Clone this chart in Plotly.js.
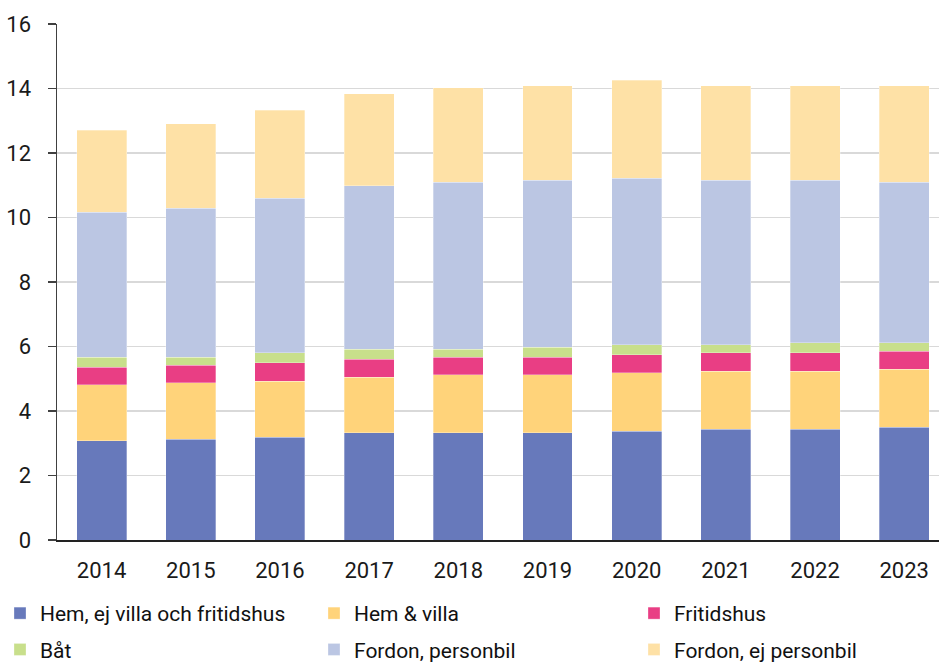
<!DOCTYPE html>
<html>
<head>
<meta charset="utf-8">
<script src="https://cdn.plot.ly/plotly-3.0.1.min.js"></script>
<style>html,body{margin:0;padding:0;background:#fff;}#chart{width:939px;height:663px;}</style>
</head>
<body>
<div id="chart"></div>
<script>
const years = ["2014","2015","2016","2017","2018","2019","2020","2021","2022","2023"];
const hemEjVilla = [3.07, 3.13, 3.19, 3.32, 3.32, 3.32, 3.38, 3.44, 3.44, 3.50];
const hemVilla = [1.74, 1.74, 1.74, 1.73, 1.80, 1.80, 1.80, 1.80, 1.80, 1.80];
const fritidshus = [0.54, 0.55, 0.56, 0.56, 0.55, 0.55, 0.56, 0.56, 0.56, 0.56];
const bat = [0.31, 0.25, 0.31, 0.31, 0.25, 0.31, 0.31, 0.25, 0.31, 0.25];
const personbil = [4.51, 4.62, 4.80, 5.06, 5.18, 5.18, 5.17, 5.11, 5.05, 4.99];
const ejPersonbil = [2.54, 2.61, 2.73, 2.85, 2.92, 2.92, 3.04, 2.92, 2.92, 2.98];

const seriesNames = ["Hem, ej villa och fritidshus", "Hem & villa", "Fritidshus", "Båt", "Fordon, personbil", "Fordon, ej personbil"];
const seriesValues = [hemEjVilla, hemVilla, fritidshus, bat, personbil, ejPersonbil];
const seriesColors = ["#6779BB", "#FFD37A", "#E93E84", "#C8DF8B", "#BBC6E3", "#FEE1A6"];
// legend column for each series (three columns, two rows)
const legendIds = ["legend", "legend2", "legend3", "legend", "legend2", "legend3"];

const traces = seriesNames.map((name, i) => ({
  type: "bar",
  name: name,
  x: years,
  y: seriesValues[i],
  legend: legendIds[i],
  legendgroup: "g" + i,
  marker: {color: seriesColors[i], line: {color: "rgba(255,255,255,0.6)", width: 0.5}},
  hoverinfo: "x+y+name"
}));

const font = "Roboto, 'Liberation Sans', sans-serif";
function legendAt(xpx) {
  return {
    orientation: "v",
    xref: "container", yref: "container",
    x: xpx / 939, y: 0.1056, xanchor: "left", yanchor: "top",
    traceorder: "grouped",
    tracegroupgap: 6,
    font: {family: font, size: 21, color: "#111"},
    bgcolor: "rgba(0,0,0,0)",
    itemclick: false
  };
}
const layout = {
  width: 939,
  height: 663,
  barmode: "stack",
  bargap: 0.44,
  margin: {l: 57, r: 0, t: 24, b: 123, autoexpand: false},
  paper_bgcolor: "#ffffff",
  plot_bgcolor: "#ffffff",
  font: {family: font, size: 22, color: "#1a1a1a"},
  showlegend: true,
  legend: legendAt(0),
  legend2: legendAt(314),
  legend3: legendAt(634),
  xaxis: {
    type: "category",
    range: [-0.5, 9.39],
    showline: true, linecolor: "#222", linewidth: 1.5,
    ticks: "", showgrid: false, zeroline: false,
    ticklabelstandoff: 10,
    automargin: false,
    tickfont: {family: font, size: 22, color: "#1a1a1a"}
  },
  yaxis: {
    range: [0, 16],
    dtick: 2,
    tick0: 0,
    showline: true, linecolor: "#404040", linewidth: 1.5,
    ticks: "outside", ticklen: 8, tickcolor: "#404040", tickwidth: 1.5,
    showgrid: true, gridcolor: "#d9d9d9", gridwidth: 1.5,
    zeroline: false,
    ticklabelstandoff: 12,
    automargin: false,
    tickfont: {family: font, size: 22, color: "#1a1a1a"}
  }
};

Plotly.newPlot("chart", traces, layout, {displayModeBar: false, staticPlot: true});
</script>
</body>
</html>
